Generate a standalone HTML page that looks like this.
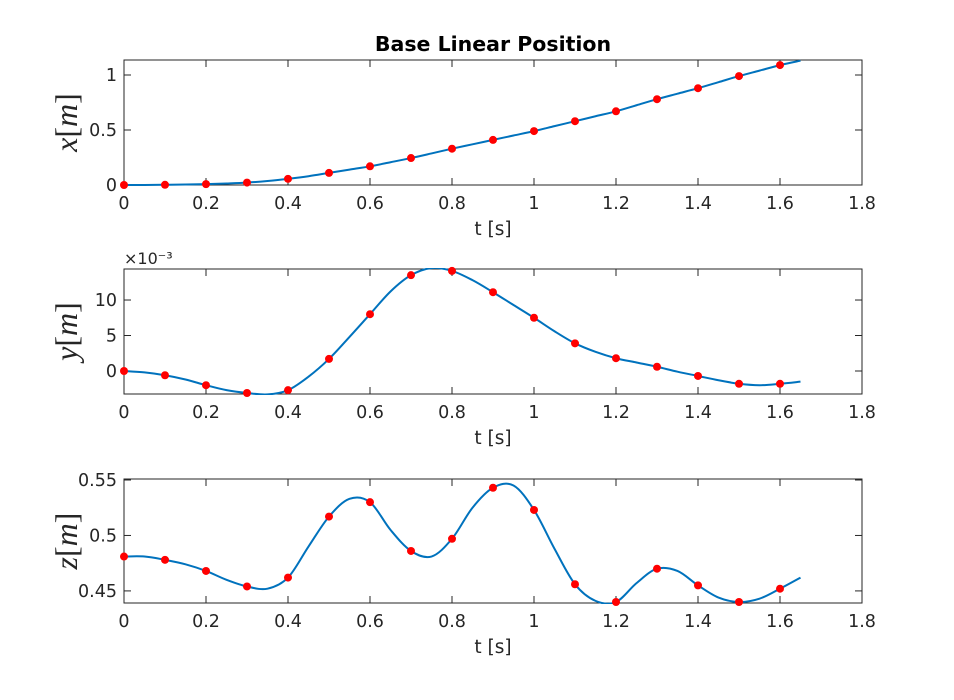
<!DOCTYPE html>
<html><head><meta charset="utf-8"><style>
body{margin:0;background:#fff;}
svg{display:block;font-family:"DejaVu Sans","Liberation Sans",sans-serif;}
</style></head><body>
<svg id="fig" width="954" height="700" viewBox="0 0 954 700">
<rect width="954" height="700" fill="#fff"/>
<text x="493" y="51" text-anchor="middle" font-weight="bold" font-size="20.5" fill="#000">Base Linear Position</text>
</svg>
<script>
const tMarks=[0,0.1,0.2,0.3,0.4,0.5,0.6,0.7,0.8,0.9,1.0,1.1,1.2,1.3,1.4,1.5,1.6];
const xMarks=[0,0.002,0.008,0.022,0.056,0.11,0.17,0.245,0.33,0.41,0.49,0.58,0.67,0.78,0.88,0.99,1.09];
const yMarks=[0,-0.6,-2.0,-3.1,-2.7,1.7,8.0,13.5,14.1,11.1,7.5,3.9,1.8,0.6,-0.7,-1.8,-1.8];
const zMarks=[0.481,0.478,0.468,0.454,0.462,0.517,0.530,0.486,0.497,0.543,0.523,0.456,0.440,0.470,0.455,0.440,0.452];
const tLine=[0,0.05,0.1,0.15,0.2,0.25,0.3,0.35,0.4,0.45,0.5,0.55,0.6,0.65,0.7,0.75,0.8,0.85,0.9,0.95,1.0,1.05,1.1,1.15,1.2,1.25,1.3,1.35,1.4,1.45,1.5,1.55,1.6,1.65];
const xLine=[0,0.0005,0.002,0.004,0.008,0.014,0.022,0.036,0.056,0.08,0.11,0.14,0.17,0.207,0.245,0.287,0.33,0.37,0.41,0.45,0.49,0.535,0.58,0.625,0.67,0.725,0.78,0.83,0.88,0.935,0.99,1.04,1.09,1.13];
const yLine=[0,-0.2,-0.6,-1.2,-2.0,-2.7,-3.1,-3.3,-2.7,-0.8,1.7,4.8,8.0,11.2,13.5,14.5,14.1,12.8,11.1,9.3,7.5,5.6,3.9,2.7,1.8,1.2,0.6,-0.1,-0.7,-1.3,-1.8,-2.0,-1.8,-1.5];
const zLine=[0.481,0.481,0.478,0.474,0.468,0.46,0.454,0.452,0.462,0.49,0.517,0.533,0.530,0.505,0.486,0.481,0.497,0.525,0.543,0.545,0.523,0.488,0.456,0.441,0.440,0.457,0.470,0.468,0.455,0.444,0.440,0.443,0.452,0.462];
const xTicks=[0,0.2,0.4,0.6,0.8,1,1.2,1.4,1.6,1.8];
const xTickLabels=["0","0.2","0.4","0.6","0.8","1","1.2","1.4","1.6","1.8"];
const p1Ticks=[0,0.5,1], p1Labels=["0","0.5","1"];
const p2Ticks=[0,5,10], p2Labels=["0","5","10"];
const p3Ticks=[0.45,0.5,0.55], p3Labels=["0.45","0.5","0.55"];

const NS="http://www.w3.org/2000/svg";
const svg=document.getElementById('fig');
function mk(tag,attrs,parent){const e=document.createElementNS(NS,tag);for(const k in attrs)e.setAttribute(k,attrs[k]);(parent||svg).appendChild(e);return e;}
const L=124,R=862;
function sx(t){return L+(t-0)/(1.8)*(R-L);}
function panel(id,top,bot,ymin,ymax,ticks,labels,lineY,markY,ylab,exp){
  const sy=v=>bot-(v-ymin)/(ymax-ymin)*(bot-top);
  const g=mk('g',{});
  
  
  const cp=mk('clipPath',{id:'c'+id},g);mk('rect',{x:L,y:top-1,width:R-L,height:bot-top+2},cp);
  xTicks.forEach((t,i)=>{const x=sx(t);
    mk('line',{x1:x,y1:bot,x2:x,y2:bot-7,stroke:'#262626'},g);
    mk('line',{x1:x,y1:top,x2:x,y2:top+7,stroke:'#262626'},g);
    const tx=mk('text',{x:x,y:bot+24,'text-anchor':'middle','font-size':'17.5',fill:'#262626'},g);tx.textContent=xTickLabels[i];
    
    
  });
  ticks.forEach((v,i)=>{const y=sy(v);
    mk('line',{x1:L,y1:y,x2:L+7,y2:y,stroke:'#262626'},g);
    mk('line',{x1:R,y1:y,x2:R-7,y2:y,stroke:'#262626'},g);
    const tx=mk('text',{x:L-7,y:y+6,'text-anchor':'end','font-size':'17.5',fill:'#262626'},g);tx.textContent=labels[i];
    
    
  });
  mk('rect',{x:L,y:top,width:R-L,height:bot-top,fill:'none',stroke:'#262626','stroke-width':1},g);
  const xl=mk('text',{x:(L+R)/2,y:bot+50,'text-anchor':'middle','font-size':'18.5',fill:'#262626'},g);xl.textContent='t [s]';
  
  
  const yl=mk('text',{x:0,y:0,'text-anchor':'middle','font-size':'32','font-family':'"Liberation Serif",serif',fill:'#262626',transform:`translate(77,${(top+bot)/2}) rotate(-90)`},g);
  yl.innerHTML=`<tspan font-style="italic">${ylab}</tspan>[<tspan font-style="italic">m</tspan>]`;
  
  
  if(exp){const ex=mk('text',{x:L,y:top-5,'font-size':'16',fill:'#262626'},g);ex.textContent='×10⁻³';
    
    }
  const P=tLine.map((t,i)=>[sx(t),sy(lineY[i])]);
  let d='M'+P[0][0]+','+P[0][1];
  for(let i=0;i<P.length-1;i++){const p0=P[Math.max(0,i-1)],p1=P[i],p2=P[i+1],p3=P[Math.min(P.length-1,i+2)];
    d+=` C${p1[0]+(p2[0]-p0[0])/6},${p1[1]+(p2[1]-p0[1])/6} ${p2[0]-(p3[0]-p1[0])/6},${p2[1]-(p3[1]-p1[1])/6} ${p2[0]},${p2[1]}`;}
  const ln=mk('path',{d:d,fill:'none',stroke:'#0072bd','stroke-width':2,'clip-path':`url(#c${id})`},g);
  
  
  tMarks.forEach((t,i)=>{const c=mk('circle',{cx:sx(t),cy:sy(markY[i]),r:4,fill:'#ff0000'},g);
    
    });
}
panel('x-panel',60,185,0,1.13636,p1Ticks,p1Labels,xLine,xMarks,'x',false);
panel('y-panel',269,394,-3.24,14.37,p2Ticks,p2Labels,yLine,yMarks,'y',true);
panel('z-panel',479,603,0.4391,0.5509,p3Ticks,p3Labels,zLine,zMarks,'z',false);
</script>
</body></html>
